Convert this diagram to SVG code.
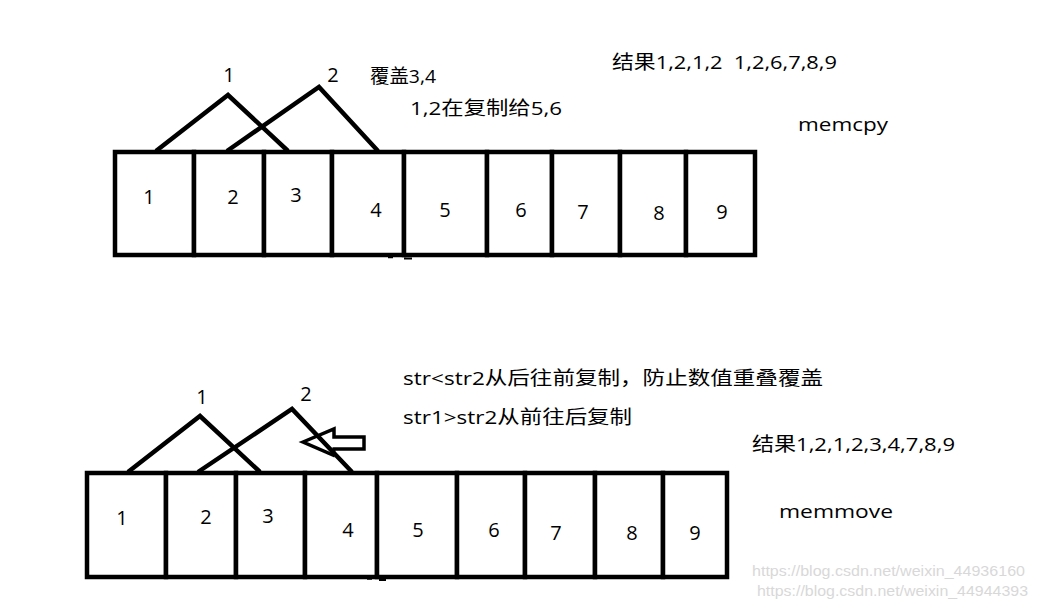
<svg xmlns="http://www.w3.org/2000/svg" width="1037" height="609" viewBox="0 0 1037 609">
<style>
.cell{fill:#fff;stroke:#000;stroke-width:4.5}
.num{font-family:"Open Sans","Noto Sans CJK SC",sans-serif;font-size:20px;fill:#000;text-anchor:middle}
.lbl{font-family:"Open Sans","Noto Sans CJK SC",sans-serif;font-size:19px;fill:#000}
.wm{font-family:"Liberation Sans",sans-serif;font-size:15px;fill:#d8d8d8}
.tri{fill:none;stroke:#000;stroke-width:4.5;stroke-linejoin:miter}
</style>
<rect width="1037" height="609" fill="#fff"/>
<!-- top array -->
<g id="top-array">
<g id="t1"><rect class="cell" x="115" y="152" width="79" height="103"/><text class="num" x="149" y="204">1</text></g>
<g id="t2"><rect class="cell" x="194" y="152" width="70" height="103"/><text class="num" x="233" y="204">2</text></g>
<g id="t3"><rect class="cell" x="264" y="152" width="68" height="103"/><text class="num" x="296" y="202">3</text></g>
<g id="t4"><rect class="cell" x="332" y="152" width="72" height="103"/><text class="num" x="376" y="217">4</text></g>
<g id="t5"><rect class="cell" x="404" y="152" width="83" height="103"/><text class="num" x="445" y="217">5</text></g>
<g id="t6"><rect class="cell" x="487" y="152" width="65" height="103"/><text class="num" x="521" y="217">6</text></g>
<g id="t7"><rect class="cell" x="552" y="152" width="68" height="103"/><text class="num" x="583" y="219">7</text></g>
<g id="t8"><rect class="cell" x="620" y="152" width="66" height="103"/><text class="num" x="659" y="220">8</text></g>
<g id="t9"><rect class="cell" x="686" y="152" width="69" height="103"/><text class="num" x="722" y="219">9</text></g>
<line x1="388" y1="257.5" x2="393" y2="257.5" stroke="#000" stroke-width="1.5"/>
<line x1="404" y1="258.5" x2="412" y2="258.5" stroke="#000" stroke-width="2"/>
</g>
<!-- bottom array -->
<g id="bottom-array">
<g id="b1"><rect class="cell" x="87" y="473" width="79" height="104"/><text class="num" x="122" y="525">1</text></g>
<g id="b2"><rect class="cell" x="166" y="473" width="70" height="104"/><text class="num" x="206" y="524">2</text></g>
<g id="b3"><rect class="cell" x="236" y="473" width="69" height="104"/><text class="num" x="268" y="523">3</text></g>
<g id="b4"><rect class="cell" x="305" y="473" width="72" height="104"/><text class="num" x="348" y="537">4</text></g>
<g id="b5"><rect class="cell" x="377" y="473" width="80" height="104"/><text class="num" x="418" y="537">5</text></g>
<g id="b6"><rect class="cell" x="457" y="473" width="68" height="104"/><text class="num" x="494" y="537">6</text></g>
<g id="b7"><rect class="cell" x="525" y="473" width="70" height="104"/><text class="num" x="556" y="540">7</text></g>
<g id="b8"><rect class="cell" x="595" y="473" width="68" height="104"/><text class="num" x="632" y="540">8</text></g>
<g id="b9"><rect class="cell" x="663" y="473" width="64" height="104"/><text class="num" x="695" y="540">9</text></g>
<line x1="367" y1="579" x2="372" y2="579" stroke="#000" stroke-width="1.5"/>
<line x1="379" y1="580" x2="386" y2="580" stroke="#000" stroke-width="2"/>
</g>
<!-- connectors -->
<g id="connectors">
<polyline class="tri" points="156,151 228,95 288,151"/>
<polyline class="tri" points="227,151 319,87 378,151"/>
<polyline class="tri" points="128,472 200,416 260,472"/>
<polyline class="tri" points="198,472 292,409 352,472"/>
<polygon points="303,442 334,429 334,437 364,437 364,449 334,449 333,455" fill="none" stroke="#000" stroke-width="3.5" stroke-linejoin="miter"/>
</g>
<!-- labels -->
<g id="labels-top">
<text class="num" x="229" y="82">1</text>
<text class="num" x="333" y="82">2</text>
<text class="lbl" x="370" y="83" textLength="66" lengthAdjust="spacingAndGlyphs">覆盖3,4</text>
<text class="lbl" x="410" y="115" textLength="152" lengthAdjust="spacingAndGlyphs">1,2在复制给5,6</text>
<text class="lbl" x="612" y="69" textLength="225" lengthAdjust="spacingAndGlyphs" xml:space="preserve">结果1,2,1,2  1,2,6,7,8,9</text>
<text class="lbl" x="798" y="131" textLength="90" lengthAdjust="spacingAndGlyphs">memcpy</text>
</g>
<g id="labels-bottom">
<text class="num" x="202" y="404">1</text>
<text class="num" x="306" y="401">2</text>
<text class="lbl" x="403" y="385" textLength="420" lengthAdjust="spacingAndGlyphs">str&lt;str2从后往前复制，防止数值重叠覆盖</text>
<text class="lbl" x="403" y="424" textLength="229" lengthAdjust="spacingAndGlyphs">str1&gt;str2从前往后复制</text>
<text class="lbl" x="752" y="451" textLength="203" lengthAdjust="spacingAndGlyphs">结果1,2,1,2,3,4,7,8,9</text>
<text class="lbl" x="779" y="518" textLength="114" lengthAdjust="spacingAndGlyphs">memmove</text>
</g>
<g id="watermark">
<text class="wm" x="752" y="576" textLength="273" lengthAdjust="spacingAndGlyphs">https://blog.csdn.net/weixin_44936160</text>
<text class="wm" x="757" y="596" textLength="271" lengthAdjust="spacingAndGlyphs">https://blog.csdn.net/weixin_44944393</text>
</g>
</svg>
